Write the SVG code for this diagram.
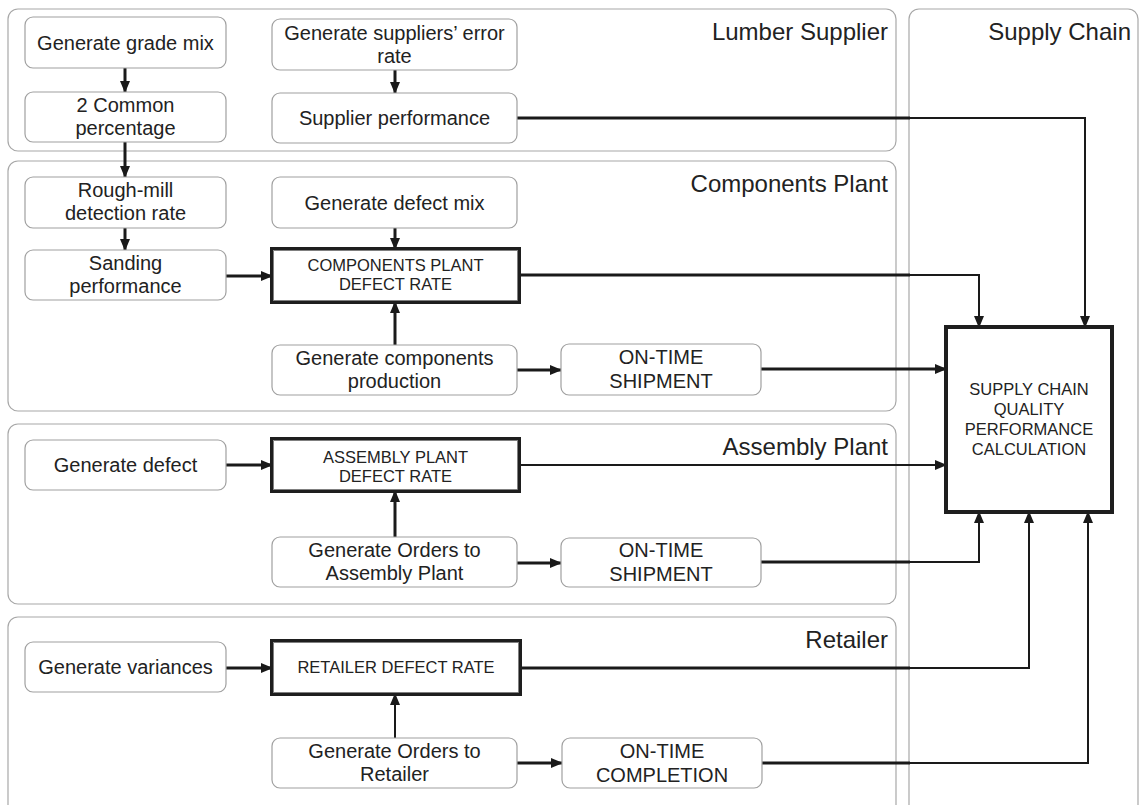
<svg xmlns="http://www.w3.org/2000/svg" width="1141" height="805" viewBox="0 0 1141 805">
<defs>
<marker id="ah" markerUnits="userSpaceOnUse" markerWidth="12" markerHeight="10" refX="11" refY="5" orient="auto">
<path d="M0,0 L12,5 L0,10 z" fill="#1a1a1a"/>
</marker>
<style>
.panel{fill:#fff;stroke:#a8a8a8;stroke-width:1.2}
.node{fill:#fff;stroke:#a0a0a0;stroke-width:1.2}
.key{fill:#fff;stroke:#1e1e1e;stroke-width:4}
.keyin{fill:none;stroke:#9a9a9a;stroke-width:0.8}
.big{fill:#fff;stroke:#1e1e1e;stroke-width:4}
text{font-family:"Liberation Sans",Arial,sans-serif;fill:#222}
.t{font-size:20px;text-anchor:middle}
.c{font-size:16.5px;text-anchor:middle}
.title{font-size:24px;text-anchor:end}
.w3{fill:none;stroke:#1a1a1a;stroke-width:3}
.w2{fill:none;stroke:#1a1a1a;stroke-width:2}
</style>
</defs>
<rect width="1141" height="805" fill="#fff"/>

<g id="panels">
<g id="lumber-supplier"><rect class="panel" x="8" y="9" width="888" height="142" rx="10"/><text class="title" x="888" y="40">Lumber Supplier</text></g>
<g id="components-plant"><rect class="panel" x="8" y="161" width="888" height="250" rx="10"/><text class="title" x="888" y="192">Components Plant</text></g>
<g id="assembly-plant"><rect class="panel" x="8" y="424" width="888" height="180" rx="10"/><text class="title" x="888" y="455">Assembly Plant</text></g>
<g id="retailer"><rect class="panel" x="8" y="617" width="888" height="210" rx="10"/><text class="title" x="888" y="648">Retailer</text></g>
<g id="supply-chain"><rect class="panel" x="909" y="9" width="229" height="820" rx="10"/><text class="title" x="1131" y="40">Supply Chain</text></g>
</g>

<g id="connectors">
<!-- lumber -->
<path class="w3" d="M125,68 V92" marker-end="url(#ah)"/>
<path class="w3" d="M395,70 V93" marker-end="url(#ah)"/>
<path class="w3" d="M517,118 H910"/>
<path class="w2" d="M909,118 H1085 V327" marker-end="url(#ah)"/>
<!-- components -->
<path class="w3" d="M125,142 V177" marker-end="url(#ah)"/>
<path class="w3" d="M125,228 V250" marker-end="url(#ah)"/>
<path class="w3" d="M395,228 V249" marker-end="url(#ah)"/>
<path class="w3" d="M226,276 H272" marker-end="url(#ah)"/>
<path class="w3" d="M395,345 V302" marker-end="url(#ah)"/>
<path class="w3" d="M517,370 H561" marker-end="url(#ah)"/>
<path class="w3" d="M519,275 H910"/>
<path class="w2" d="M909,275 H979 V327" marker-end="url(#ah)"/>
<path class="w3" d="M761,369 H946" marker-end="url(#ah)"/>
<!-- assembly -->
<path class="w3" d="M226,465 H272" marker-end="url(#ah)"/>
<path class="w3" d="M395,537 V491" marker-end="url(#ah)"/>
<path class="w3" d="M517,563 H561" marker-end="url(#ah)"/>
<path class="w2" d="M519,465 H946" marker-end="url(#ah)"/>
<path class="w3" d="M761,562 H910"/>
<path class="w2" d="M909,562 H979 V512" marker-end="url(#ah)"/>
<!-- retailer -->
<path class="w3" d="M226,668 H272" marker-end="url(#ah)"/>
<path class="w2" d="M395,738 V694" marker-end="url(#ah)"/>
<path class="w3" d="M517,763 H562" marker-end="url(#ah)"/>
<path class="w3" d="M520,668 H910"/>
<path class="w2" d="M909,668 H1029 V512" marker-end="url(#ah)"/>
<path class="w3" d="M762,763 H910"/>
<path class="w2" d="M909,763 H1088 V512" marker-end="url(#ah)"/>
</g>

<g id="n-grade-mix"><rect class="node" x="25" y="17" width="201" height="51" rx="8"/><text class="t" x="125.5" y="50">Generate grade mix</text></g>
<g id="n-error-rate"><rect class="node" x="272" y="19" width="245" height="51" rx="8"/><text class="t" x="394.5" y="40">Generate suppliers’ error</text><text class="t" x="394.5" y="63">rate</text></g>
<g id="n-2common"><rect class="node" x="25" y="92" width="201" height="50" rx="8"/><text class="t" x="125.5" y="112">2 Common</text><text class="t" x="125.5" y="135">percentage</text></g>
<g id="n-supplier-perf"><rect class="node" x="272" y="93" width="245" height="50" rx="8"/><text class="t" x="394.5" y="125">Supplier performance</text></g>

<g id="n-rough-mill"><rect class="node" x="25" y="177" width="201" height="51" rx="8"/><text class="t" x="125.5" y="197">Rough-mill</text><text class="t" x="125.5" y="220">detection rate</text></g>
<g id="n-defect-mix"><rect class="node" x="272" y="177" width="245" height="51" rx="8"/><text class="t" x="394.5" y="210">Generate defect mix</text></g>
<g id="n-sanding"><rect class="node" x="25" y="250" width="201" height="50" rx="8"/><text class="t" x="125.5" y="270">Sanding</text><text class="t" x="125.5" y="293">performance</text></g>
<g id="n-comp-defect"><rect class="key" x="272" y="249" width="247" height="53"/><rect class="keyin" x="273.5" y="250.5" width="244" height="50"/><text class="c" x="395.5" y="271">COMPONENTS PLANT</text><text class="c" x="395.5" y="290">DEFECT RATE</text></g>
<g id="n-comp-prod"><rect class="node" x="272" y="345" width="245" height="50" rx="8"/><text class="t" x="394.5" y="365">Generate components</text><text class="t" x="394.5" y="388">production</text></g>
<g id="n-comp-ontime"><rect class="node" x="561" y="344" width="200" height="51" rx="8"/><text class="t" x="661" y="364">ON-TIME</text><text class="t" x="661" y="388">SHIPMENT</text></g>

<g id="n-gen-defect"><rect class="node" x="25" y="440" width="201" height="50" rx="8"/><text class="t" x="125.5" y="472">Generate defect</text></g>
<g id="n-asm-defect"><rect class="key" x="272" y="439" width="247" height="52"/><rect class="keyin" x="273.5" y="440.5" width="244" height="49"/><text class="c" x="395.5" y="463">ASSEMBLY PLANT</text><text class="c" x="395.5" y="482">DEFECT RATE</text></g>
<g id="n-asm-orders"><rect class="node" x="272" y="537" width="245" height="50" rx="8"/><text class="t" x="394.5" y="557">Generate Orders to</text><text class="t" x="394.5" y="580">Assembly Plant</text></g>
<g id="n-asm-ontime"><rect class="node" x="561" y="538" width="200" height="49" rx="8"/><text class="t" x="661" y="557">ON-TIME</text><text class="t" x="661" y="581">SHIPMENT</text></g>

<g id="n-variances"><rect class="node" x="25" y="642" width="201" height="50" rx="8"/><text class="t" x="125.5" y="674">Generate variances</text></g>
<g id="n-ret-defect"><rect class="key" x="272" y="641" width="248" height="53"/><rect class="keyin" x="273.5" y="642.5" width="245" height="50"/><text class="c" x="396" y="673">RETAILER DEFECT RATE</text></g>
<g id="n-ret-orders"><rect class="node" x="272" y="738" width="245" height="50" rx="8"/><text class="t" x="394.5" y="758">Generate Orders to</text><text class="t" x="394.5" y="781">Retailer</text></g>
<g id="n-ret-ontime"><rect class="node" x="562" y="738" width="200" height="50" rx="8"/><text class="t" x="662" y="758">ON-TIME</text><text class="t" x="662" y="782">COMPLETION</text></g>

<g id="n-supply-chain-calc"><rect class="big" x="946" y="327" width="166" height="185"/><text class="c" x="1029" y="395">SUPPLY CHAIN</text><text class="c" x="1029" y="415">QUALITY</text><text class="c" x="1029" y="435">PERFORMANCE</text><text class="c" x="1029" y="455">CALCULATION</text></g>
</svg>
